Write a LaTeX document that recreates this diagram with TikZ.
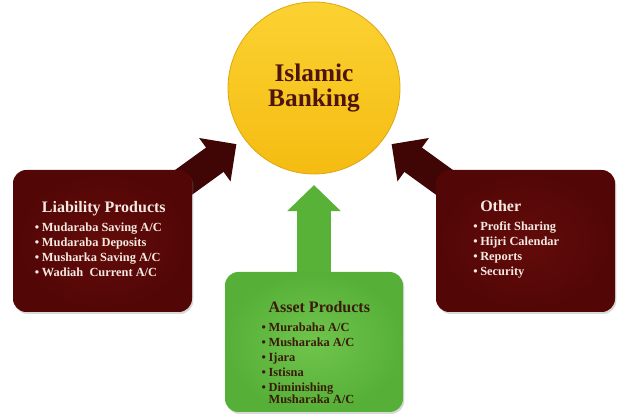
\documentclass[tikz,border=0pt]{standalone}
\usepackage{fontspec}
\setmainfont{Liberation Serif}
\usetikzlibrary{arrows.meta,shadows,backgrounds}

\definecolor{bankgold}{RGB}{245,188,18}
\definecolor{banklight}{RGB}{251,210,50}
\definecolor{bankedge}{RGB}{222,166,16}
\definecolor{bankink}{RGB}{78,20,14}
\definecolor{maroonin}{RGB}{98,12,10}
\definecolor{maroonout}{RGB}{82,6,6}
\definecolor{maroonarrow}{RGB}{64,5,5}
\definecolor{creamink}{RGB}{246,233,226}
\definecolor{greenin}{RGB}{112,196,76}
\definecolor{greenout}{RGB}{86,176,56}
\definecolor{greenarrow}{RGB}{88,178,56}
\definecolor{greenink}{RGB}{58,26,10}

\newcommand{\itm}{\llap{•\hspace{2pt}}}
\newcommand{\boxtitle}{\fontsize{12}{14}\selectfont}

\begin{document}
\begin{tikzpicture}[x=0.75pt,y=0.75pt,yscale=-1,xscale=1,
  prodbox/.style={rounded corners=10pt, minimum width=134.25pt, minimum height=106.5pt, inner sep=0pt,
    drop shadow={opacity=0.3, shadow xshift=1pt, shadow yshift=-1.5pt}},
  liabbox/.style={prodbox, inner color=maroonin, outer color=maroonout},
  greenbox/.style={prodbox, minimum width=133.5pt, minimum height=105pt, inner color=greenin, outer color=greenout},
  listtext/.style={anchor=north west, inner sep=0.75pt, align=left, font=\bfseries\fontsize{9.3}{11.25}\selectfont},
  maroonline/.style={line width=22.5pt, color=maroonarrow, -{Triangle[length=20pt, width=39pt]}, shorten >=7},
  greenline/.style={line width=25.5pt, color=greenarrow, -{Triangle[length=19.5pt, width=39pt]}, shorten >=8}
  ]
\useasboundingbox (0,0) rectangle (626,420);

%Shape: Circle
\node (bank) [circle, minimum size=129pt, inner sep=0pt, top color=banklight, bottom color=bankgold, draw=bankedge, line width=0.6pt,
  text=bankink, align=center, font=\bfseries\fontsize{19}{19}\selectfont] at (314,88) {Islamic\\Banking};

%Shape: Rounded Rect
\node (liab) [liabbox] at (102.5,241) {};
%Shape: Rounded Rect
\node (other) [liabbox] at (525.5,241) {};
%Shape: Rounded Rect
\node (asset) [greenbox] at (314,342) {};

%Block Arrows
\begin{scope}[on background layer]
\draw [maroonline] (liab.center) -- (bank);
\draw [maroonline] (other.center) -- (bank);
\draw [greenline] (asset.center) -- (bank);
\end{scope}

% Text Node
\draw (40.7,200.5) node (liabtxt) [listtext, text=creamink] {{\boxtitle Liability Products}\\[2.6pt]
\itm Mudaraba Saving A/C\\
\itm Mudaraba Deposits\\
\itm Musharka Saving A/C\\
\itm Wadiah\ \ Current A/C};
% Text Node
\draw (479,199.5) node (othertxt) [listtext, text=creamink] {{\boxtitle Other}\\[2.6pt]
\itm Profit Sharing\\
\itm Hijri Calendar\\
\itm Reports\\
\itm Security};
% Text Node
\draw (267.3,300.5) node (assettxt) [listtext, text=greenink] {{\boxtitle Asset Products}\\[2.6pt]
\itm Murabaha A/C\\
\itm Musharaka A/C\\
\itm Ijara\\
\itm Istisna\\
\itm Diminishing\\[-2.25pt]
Musharaka A/C};

\end{tikzpicture}
\end{document}
